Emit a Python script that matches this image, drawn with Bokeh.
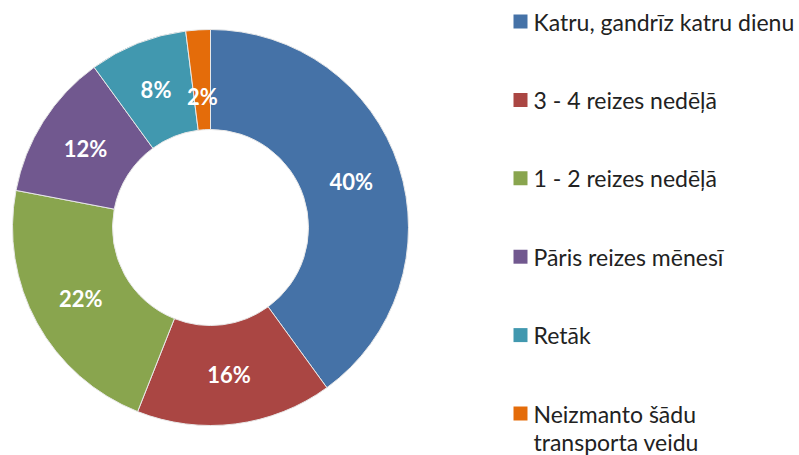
import math
from bokeh.plotting import figure
from bokeh.models import Range1d, ColumnDataSource
from bokeh.core.properties import value
from bokeh.embed import file_html
from bokeh.resources import INLINE

# ---- data ----
categories = ["Katru, gandrīz katru dienu", "3 - 4 reizes nedēļā", "1 - 2 reizes nedēļā",
              "Pāris reizes mēnesī", "Retāk", "Neizmanto šādu\ntransporta veidu"]
shares = [40, 16, 22, 12, 8, 2]
colors = ["#4572A7", "#AA4643", "#89A54E", "#71588F", "#4198AF", "#E46C0A"]

# ---- layout (screen pixels of the 799x455 window) ----
W, H = 799, 455
cx, cy = 210, H - 227          # centre in data coords (y up)
r_out, r_in = 198, 98
label_r = [148, 148, 148, 148, 148, 131]
FONT = "Lato"

total = float(sum(shares))
starts, ends, lx, ly, labels = [], [], [], [], []
cum = 0.0
for i, v in enumerate(shares):
    a0 = math.pi / 2 - 2 * math.pi * cum / total
    cum += v
    a1 = math.pi / 2 - 2 * math.pi * cum / total
    starts.append(a0)
    ends.append(a1)
    mid = (a0 + a1) / 2
    lx.append(cx + label_r[i] * math.cos(mid))
    ly.append(cy + label_r[i] * math.sin(mid))
    labels.append(f"{v}%")

p = figure(width=W, height=H,
           x_range=Range1d(0, W), y_range=Range1d(0, H),
           output_backend="svg", toolbar_location=None, min_border=0)
p.axis.visible = False
p.grid.visible = False
p.outline_line_color = None
p.background_fill_color = "white"
p.border_fill_color = "white"

src = ColumnDataSource(dict(start=starts, end=ends, color=colors))
p.annular_wedge(x=cx, y=cy, inner_radius=r_in, outer_radius=r_out,
                start_angle="start", end_angle="end", direction="clock",
                fill_color="color", line_color="#E8E8E8", line_width=1, source=src)

p.text(x=lx, y=ly, text=labels, text_color="white",
       text_font=value(FONT), text_font_style="bold", text_font_size="22px",
       text_align="center", text_baseline="middle")

# ---- legend ----
leg_y0 = 21
leg_step = 78.4
sq_x = 520
txt_x = 533
sq_y = [H - (leg_y0 + i * leg_step) for i in range(len(categories))]
p.rect(x=sq_x, y=sq_y, width=14, height=14, fill_color=colors, line_color=None)
p.text(x=txt_x, y=[y + 14 for y in sq_y], text=categories, text_color="#222222",
       text_font=value(FONT), text_font_size="23px",
       text_align="left", text_baseline="top", text_line_height=1.0)

open("out.html", "w").write(file_html(p, INLINE))
